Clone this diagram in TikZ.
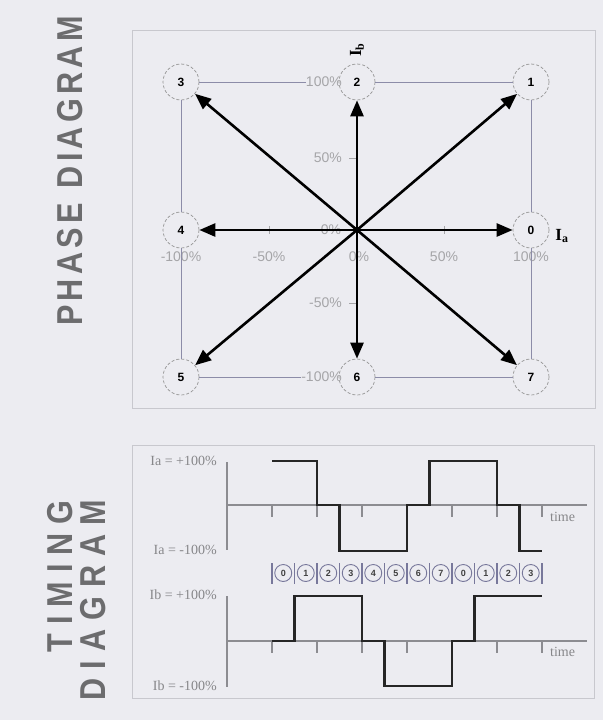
\documentclass[tikz,border=0pt]{standalone}
\usepackage{fontspec}
\setmainfont{Liberation Serif}
\newfontfamily\sansf{Liberation Sans}
\newfontfamily\titlef[FakeStretch=0.85,LetterSpace=12,UprightFont=* Bold]{Liberation Sans}
\newfontfamily\titlefw[FakeStretch=0.85,LetterSpace=25,UprightFont=* Bold]{Liberation Sans}
\usetikzlibrary{arrows.meta}
\definecolor{bgc}{RGB}{236,236,241}
\definecolor{boxc}{RGB}{200,200,206}
\definecolor{gridc}{RGB}{140,140,168}
\definecolor{lblc}{RGB}{165,165,168}
\definecolor{titc}{RGB}{108,108,110}
\definecolor{tlblc}{RGB}{135,135,138}
\definecolor{axc}{RGB}{140,140,145}
\definecolor{stc}{RGB}{120,120,155}
\tikzset{
  panel/.style={draw=boxc, line width=1pt},
  phasept/.style={circle, draw=gray!85, densely dashed, line width=0.7pt, minimum size=36pt, inner sep=0pt, font=\sansf\bfseries\fontsize{12}{12}\selectfont},
  gridline/.style={draw=gridc, line width=0.8pt},
  pct/.style={text=lblc, font=\sansf\fontsize{14}{14}\selectfont, inner sep=0pt},
  vec/.style={draw=black, line width=2.6pt, -{Triangle[length=16pt,width=13pt]}},
  ptick/.style={draw=lblc, line width=1pt},
  axis/.style={draw=axc, line width=1.6pt},
  wave/.style={draw=black!85, line width=2.6pt, line join=miter},
  tlbl/.style={text=tlblc, font=\fontsize{14}{14}\selectfont, inner sep=0pt},
  title/.style={text=titc, font=\titlef\fontsize{36}{40}\selectfont, inner sep=0pt},
  titlew/.style={text=titc, font=\titlefw\fontsize{36}{33}\selectfont, inner sep=0pt},
  stcirc/.style={circle, draw=stc, line width=0.9pt, minimum size=17pt, inner sep=0pt, font=\sansf\bfseries\fontsize{9}{9}\selectfont, text=black!75},
  stsep/.style={draw=stc, line width=1.2pt},
}
\begin{document}
\begin{tikzpicture}[x=1pt,y=-1pt]
\useasboundingbox[fill=bgc] (0,0) rectangle (603,720);
% titles
\node[title, rotate=90, anchor=west] (tphase) at (70,326) {PHASE};
\node[title, rotate=90, anchor=east] (tdiag) at (70,16) {DIAGRAM};
\node[titlew, rotate=90, align=right, anchor=east] (ttime) at (77,500) {TIMING\\DIAGRAM};
% phase panel
\draw[panel] (132,30) rectangle (595,408);
\coordinate (o) at (357,230);
\node[phasept] (c0) at (531,230) {0};
\node[phasept] (c1) at (531,82) {1};
\node[phasept] (c2) at (357,82) {2};
\node[phasept] (c3) at (181,82) {3};
\node[phasept] (c4) at (181,230) {4};
\node[phasept] (c5) at (181,377) {5};
\node[phasept] (c6) at (357,377) {6};
\node[phasept] (c7) at (531,377) {7};
% labels
\node[pct, anchor=east] (l100t) at (342,82) {100\%};
\node[pct, anchor=east] (l100b) at (342,377) {-100\%};
\node[pct, anchor=east] (l50v) at (342,158) {50\%};
\node[pct, anchor=east] (lm50v) at (342,303) {-50\%};
\node[pct] (lm100h) at (181,257) {-100\%};
\node[pct] (lm50h) at (269,257) {-50\%};
\node[pct] (l0h) at (359,257) {0\%};
\node[pct] (l50h) at (444,257) {50\%};
\node[pct] (l100h) at (531,257) {100\%};
\node[pct] (l0c) at (331,230) {0\%};
% grid square
\draw[gridline] (c3) -- (l100t);
\draw[gridline] (c2) -- (c1);
\draw[gridline] (c1) -- (c0);
\draw[gridline] (c0) -- (c7);
\draw[gridline] (c7) -- (c6);
\draw[gridline] (l100b) -- (c5);
\draw[gridline] (c5) -- (c4);
\draw[gridline] (c4) -- (c3);
% small ticks
\draw[ptick] (269,226) -- (269,234);
\draw[ptick] (444,226) -- (444,234);
\draw[ptick] (349,158) -- (357,158);
\draw[ptick] (349,303) -- (357,303);
% vectors
\foreach \t in {c0,c1,c2,c3,c4,c5,c6,c7} \draw[vec] (o) -- (\t);
% axis names
\node[font=\bfseries\fontsize{17}{17}\selectfont, inner sep=0pt] (ia) at (562,236) {I$_{\mathbf a}$};
\node[font=\bfseries\fontsize{17}{17}\selectfont, inner sep=0pt, rotate=90] (ib) at (357,50) {I$_{\mathbf b}$};
% timing panel
\draw[panel] (132,445) rectangle (594,698);
% top plot
\draw[axis] (227,462) -- (227,550);
\draw[axis] (227,505) -- (587,505);
\foreach \k in {0,...,5} \draw[axis, line width=1.3pt] (272+45*\k,505) -- (272+45*\k,517);
\draw[axis, line width=2.4pt] (542,505) -- (542,517);
\draw[wave] (272,461) -- (317,461) -- (317,505) -- (339.5,505) -- (339.5,551) -- (407,551) -- (407,505) -- (429.5,505) -- (429.5,461) -- (497,461) -- (497,505) -- (519.5,505) -- (519.5,551) -- (542,551);
\node[tlbl, anchor=east] (iap) at (217,461) {Ia = +100\%};
\node[tlbl, anchor=east] (iam) at (217,550) {Ia = -100\%};
\node[tlbl, anchor=west] (time1) at (550,517) {time};
% state row
\foreach \n [count=\i from 0] in {0,1,2,3,4,5,6,7,0,1,2,3} {
  \node[stcirc] (s\i) at (283.25+22.5*\i,573) {\n};
}
\foreach \i in {1,...,11} \draw[stsep] (272+22.5*\i,563) -- (272+22.5*\i,584);
\draw[stsep, line width=2pt] (272,563) -- (272,584);
\draw[stsep, line width=2pt] (542,563) -- (542,584);
% bottom plot
\draw[axis] (227,596) -- (227,687);
\draw[axis] (227,641) -- (587,641);
\foreach \k in {0,...,5} \draw[axis, line width=1.3pt] (272+45*\k,641) -- (272+45*\k,653);
\draw[axis, line width=2.4pt] (542,641) -- (542,653);
\draw[wave] (272,641) -- (294.5,641) -- (294.5,596) -- (362,596) -- (362,641) -- (384.5,641) -- (384.5,686) -- (452,686) -- (452,641) -- (474.5,641) -- (474.5,596) -- (542,596);
\node[tlbl, anchor=east] (ibp) at (217,595) {Ib = +100\%};
\node[tlbl, anchor=east] (ibm) at (217,686) {Ib = -100\%};
\node[tlbl, anchor=west] (time2) at (550,652) {time};
\end{tikzpicture}
\end{document}
